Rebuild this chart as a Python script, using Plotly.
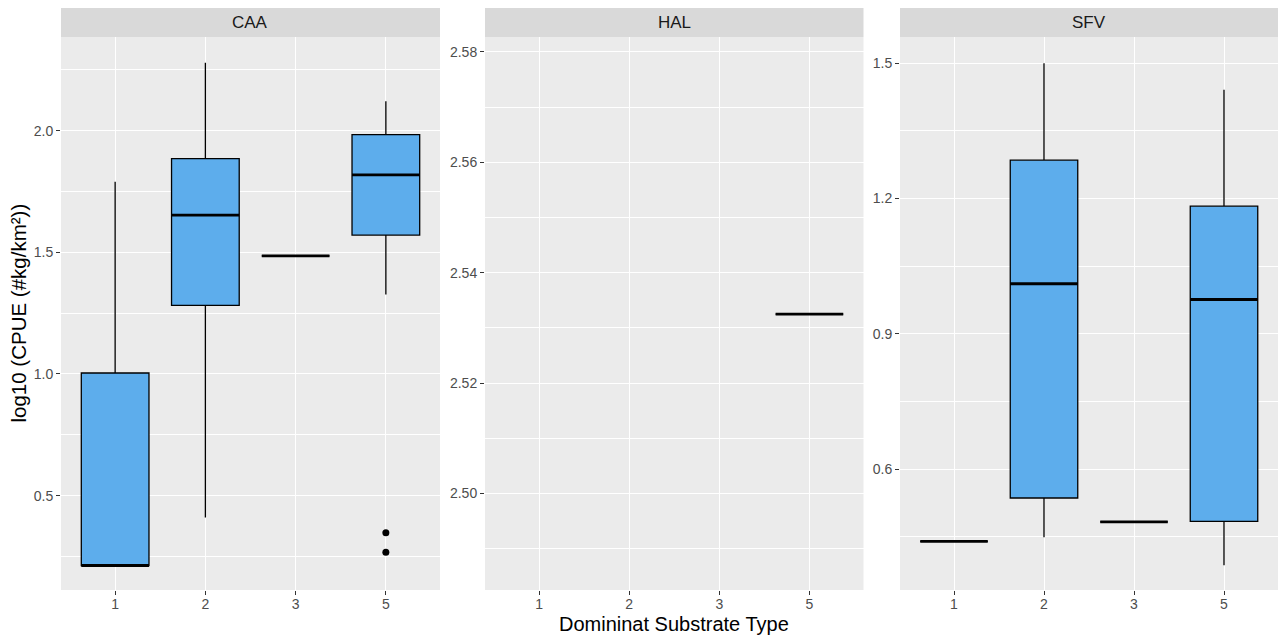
import plotly.graph_objects as go

# ---------------- data ----------------
categories = ["1", "2", "3", "5"]
facets = ["CAA", "HAL", "SFV"]

# CAA
caa_x = ["1", "2", "3", "5"]
caa_q1 = [0.212, 1.282, 1.485, 1.571]
caa_med = [0.212, 1.653, 1.485, 1.818]
caa_q3 = [1.004, 1.885, 1.485, 1.984]
caa_lo = [0.212, 0.410, 1.485, 1.327]
caa_hi = [1.790, 2.279, 1.485, 2.121]
caa_out_x = ["5", "5"]
caa_out_y = [0.347, 0.267]

# HAL
hal_x = ["5"]
hal_q1 = [2.5325]
hal_med = [2.5325]
hal_q3 = [2.5325]
hal_lo = [2.5325]
hal_hi = [2.5325]

# SFV
sfv_x = ["1", "2", "3", "5"]
sfv_q1 = [0.440, 0.536, 0.483, 0.484]
sfv_med = [0.440, 1.011, 0.483, 0.976]
sfv_q3 = [0.440, 1.285, 0.483, 1.183]
sfv_lo = [0.440, 0.449, 0.483, 0.387]
sfv_hi = [0.440, 1.500, 0.483, 1.441]

y_ranges = [[0.112, 2.385], [2.4825, 2.5827], [0.332, 1.558]]
y_ticks = [[0.5, 1.0, 1.5, 2.0], [2.50, 2.52, 2.54, 2.56, 2.58], [0.6, 0.9, 1.2, 1.5]]
y_ticktext = [["0.5", "1.0", "1.5", "2.0"], ["2.50", "2.52", "2.54", "2.56", "2.58"],
              ["0.6", "0.9", "1.2", "1.5"]]
y_minor = [0.25, 0.01, 0.15]
y_minor0 = [0.0, 2.49, 0.15]

# ---------------- style ----------------
W, H = 1278, 637
BOX_W = 0.75
FILL = "#5DADEC"
panel_px = [(61, 440), (485, 863.5), (900, 1278)]
top_px, bot_px, strip_top_px = 37, 590, 8
FONT = "Liberation Sans, Arial, sans-serif"

pos = {c: i for i, c in enumerate(categories)}

fig = go.Figure()

panels = [
    (caa_x, caa_q1, caa_med, caa_q3, caa_lo, caa_hi),
    (hal_x, hal_q1, hal_med, hal_q3, hal_lo, hal_hi),
    (sfv_x, sfv_q1, sfv_med, sfv_q3, sfv_lo, sfv_hi),
]

for k, (xs, q1, med, q3, lo, hi) in enumerate(panels):
    ax = "" if k == 0 else str(k + 1)
    xv = [pos[c] for c in xs]
    fig.add_trace(go.Box(
        x=xv, q1=q1, median=med, q3=q3, lowerfence=lo, upperfence=hi,
        width=BOX_W, fillcolor=FILL, line=dict(color="#000000", width=1.3),
        whiskerwidth=0, boxpoints=False, showlegend=False, hoverinfo="skip",
        xaxis="x" + ax, yaxis="y" + ax,
    ))
    mx, my = [], []
    for x0, m in zip(xv, med):
        mx += [x0 - BOX_W / 2, x0 + BOX_W / 2, None]
        my += [m, m, None]
    fig.add_trace(go.Scatter(
        x=mx, y=my, mode="lines", line=dict(color="#000000", width=2.8),
        showlegend=False, hoverinfo="skip", xaxis="x" + ax, yaxis="y" + ax,
    ))

fig.add_trace(go.Scatter(
    x=[pos[c] for c in caa_out_x], y=caa_out_y, mode="markers",
    marker=dict(color="#000000", size=7), showlegend=False, hoverinfo="skip",
    xaxis="x", yaxis="y",
))

ydom = [(H - bot_px) / H, (H - top_px) / H]
layout = dict(
    width=W, height=H,
    margin=dict(l=0, r=0, t=0, b=0),
    paper_bgcolor="white", plot_bgcolor="#EBEBEB",
    font=dict(family=FONT, color="#4D4D4D", size=14),
    shapes=[], annotations=[],
)

for k in range(3):
    ax = "" if k == 0 else str(k + 1)
    x0, x1 = panel_px[k]
    layout["xaxis" + ax] = dict(
        domain=[x0 / W, x1 / W], anchor="y" + ax,
        range=[-0.6, 3.6], tickvals=list(range(len(categories))), ticktext=categories,
        showgrid=True, gridcolor="white", gridwidth=1.1, zeroline=False,
        ticks="outside", ticklen=4, tickwidth=1, tickcolor="#333333",
        ticklabelstandoff=-3,
        tickfont=dict(size=14, color="#4D4D4D", family=FONT), showline=False,
        fixedrange=True,
    )
    layout["yaxis" + ax] = dict(
        domain=ydom, anchor="x" + ax,
        range=y_ranges[k], tickvals=y_ticks[k], ticktext=y_ticktext[k],
        showgrid=True, gridcolor="white", gridwidth=1.1, zeroline=False,
        ticks="outside", ticklen=4, tickwidth=1, tickcolor="#333333",
        tickfont=dict(size=14, color="#4D4D4D", family=FONT), showline=False,
        minor=dict(tick0=y_minor0[k], dtick=y_minor[k], showgrid=True,
                   gridcolor="white", gridwidth=0.6, ticks=""),
        fixedrange=True,
    )
    layout["shapes"].append(dict(
        type="rect", xref="x" + ax + " domain", yref="paper",
        x0=0, x1=1, y0=(H - top_px) / H, y1=(H - strip_top_px) / H,
        fillcolor="#D9D9D9", line=dict(width=0), layer="below",
    ))
    layout["annotations"].append(dict(
        text=facets[k], xref="x" + ax + " domain", yref="paper",
        x=0.5, y=(H - (top_px + strip_top_px) / 2) / H,
        showarrow=False, font=dict(size=17, color="#1A1A1A", family=FONT),
        xanchor="center", yanchor="middle",
    ))

layout["annotations"].append(dict(
    text="Domininat Substrate Type", xref="paper", yref="paper",
    x=674 / W, y=(H - 624) / H, showarrow=False,
    font=dict(size=20, color="#000000", family=FONT),
    xanchor="center", yanchor="middle",
))
layout["annotations"].append(dict(
    text="log10 (CPUE (#kg/km²))", xref="paper", yref="paper",
    x=18 / W, y=(H - 313.5) / H, showarrow=False, textangle=-90,
    font=dict(size=20.5, color="#000000", family=FONT),
    xanchor="center", yanchor="middle",
))

fig.update_layout(**layout)
fig.write_html("out.html")
